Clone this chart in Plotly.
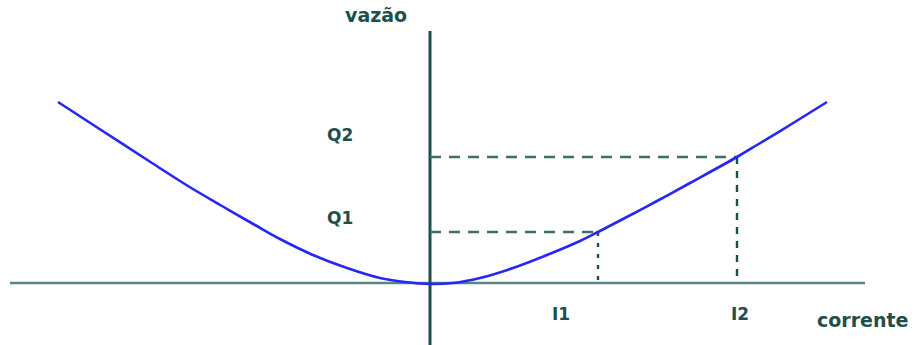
import plotly.graph_objects as go

# Flow (vazão) versus current (corrente) curve, origin at the axes crossing
corrente = [-372, -332, -278, -242, -208, -175, -150, -117, -83, -50, -25, 0,
            23, 50, 83, 117, 150, 168, 193, 227, 260, 307, 327, 360, 397]
vazao = [181, 155, 120, 97, 77, 58, 44, 28, 15, 5, 1, -1,
         0, 5, 15, 28, 42, 51, 64, 82, 100, 126, 138, 158, 181]

# Marked operating points
I_vals = [168, 307]
Q_vals = [51, 126]
I_labels = ["I1", "I2"]
Q_labels = ["Q1", "Q2"]

# Extent of the drawn axes
x_axis_span = [-420, 435]
y_axis_span = [-62, 252]

ink = "#1f4f4b"
axis_h = "#5a8782"
guide = "#3f6e69"
curve_color = "#2626f5"
font = dict(family="DejaVu Sans", size=17, color=ink)
font_big = dict(family="DejaVu Sans", size=19, color=ink)

fig = go.Figure()

# Axes
fig.add_trace(go.Scatter(x=x_axis_span, y=[0, 0], mode="lines",
                         line=dict(color=axis_h, width=2.5), hoverinfo="skip"))
fig.add_trace(go.Scatter(x=[0, 0], y=y_axis_span, mode="lines",
                         line=dict(color=ink, width=3), hoverinfo="skip"))

# Guide lines from each operating point to the axes
v_dash = ["4px,7px", "7px,7px"]
for i, q, vd in zip(I_vals, Q_vals, v_dash):
    fig.add_trace(go.Scatter(x=[0, i], y=[q, q], mode="lines",
                             line=dict(color=guide, width=2.4, dash="11px,8px"),
                             hoverinfo="skip"))
    fig.add_trace(go.Scatter(x=[i, i], y=[q, 0], mode="lines",
                             line=dict(color=ink, width=2.4, dash=vd),
                             hoverinfo="skip"))

# Characteristic curve
fig.add_trace(go.Scatter(x=corrente, y=vazao, mode="lines",
                         line=dict(color=curve_color, width=2.6, shape="spline", smoothing=1.0),
                         hoverinfo="skip"))

annotations = [
    dict(x=-54, y=268, text="<b>vazão</b>", font=font_big),
    dict(x=432, y=-37, text="<b>corrente</b>", font=font_big),
]
for i, lab in zip(I_vals, I_labels):
    annotations.append(dict(x=i - 37 if lab == "I1" else i + 3, y=-31,
                            text=f"<b>{lab}</b>", font=font))
for q, lab in zip(Q_vals, Q_labels):
    annotations.append(dict(x=-90, y=q + 14 if lab == "Q1" else q + 22,
                            text=f"<b>{lab}</b>", font=font))
for a in annotations:
    a.update(xref="x", yref="y", showarrow=False, xanchor="center", yanchor="middle")

fig.update_layout(
    width=917, height=345,
    margin=dict(l=0, r=0, t=0, b=0),
    paper_bgcolor="white", plot_bgcolor="white",
    showlegend=False,
    xaxis=dict(range=[-430, 487], visible=False, fixedrange=True),
    yaxis=dict(range=[-62, 283], visible=False, fixedrange=True),
    annotations=annotations,
)

fig.write_html("out.html", config={"displayModeBar": False})
